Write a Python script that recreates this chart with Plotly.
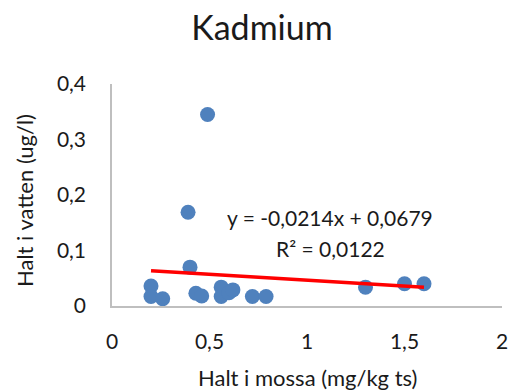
import plotly.graph_objects as go

# Data
moss = [0.20, 0.20, 0.26, 0.39, 0.40, 0.43, 0.46, 0.49, 0.56, 0.56, 0.60, 0.62, 0.72, 0.79, 1.30, 1.50, 1.60]
water = [0.036, 0.017, 0.013, 0.169, 0.070, 0.023, 0.018, 0.345, 0.034, 0.017, 0.024, 0.029, 0.017, 0.017, 0.034, 0.040, 0.040]

slope = -0.0214
intercept = 0.0679
r2 = 0.0122
trend_x = [min(moss), max(moss)]
trend_y = [slope * v + intercept for v in trend_x]

x_ticks = [0, 0.5, 1, 1.5, 2]
y_ticks = [0, 0.1, 0.2, 0.3, 0.4]

FONT = "Lato"
TXT = "#1a1a1a"

fig = go.Figure()
fig.add_trace(go.Scatter(x=moss, y=water, mode="markers",
                         marker=dict(color="#4f81bd", size=15, line=dict(width=0)),
                         showlegend=False, hoverinfo="x+y"))
fig.add_trace(go.Scatter(x=trend_x, y=trend_y, mode="lines",
                         line=dict(color="#ff0000", width=3.5),
                         showlegend=False, hoverinfo="skip"))

fig.update_layout(
    width=509, height=392,
    margin=dict(l=112, r=7, t=84, b=86),
    paper_bgcolor="white", plot_bgcolor="white",
    separators=", ",
    font=dict(family=FONT, color=TXT, size=21),
    title=dict(text="Kadmium", x=262/509, xanchor="center", xref="container",
               y=1 - 28/392, yanchor="middle", yref="container",
               font=dict(family=FONT, size=34, color=TXT)),
    xaxis=dict(range=[0, 2], tickvals=x_ticks, showgrid=False, zeroline=False,
               showline=True, linecolor="#bfbfbf", linewidth=1.5, automargin=False,
               ticks="", ticklabelstandoff=16, tickfont=dict(size=21, color=TXT)),
    yaxis=dict(range=[0, 0.4], tickvals=y_ticks, showgrid=False, zeroline=False,
               showline=True, linecolor="#bfbfbf", linewidth=1.5, automargin=False,
               ticks="", ticklabelstandoff=20, tickfont=dict(size=21, color=TXT)),
    annotations=[
        dict(text="Halt i mossa (mg/kg ts)", xref="paper", yref="paper",
             x=0.5, y=-(377-306)/222, xanchor="center", yanchor="middle",
             showarrow=False, font=dict(size=22, color=TXT)),
        dict(text="Halt i vatten (ug/l)", xref="paper", yref="paper",
             x=(24-112)/390, y=(306-201)/222, xanchor="center", yanchor="middle",
             textangle=-90, showarrow=False, font=dict(size=22, color=TXT)),
        dict(text="y = -0,0214x + 0,0679", xref="x", yref="y",
             x=1.118, y=0.1586, xanchor="center", yanchor="middle",
             showarrow=False, font=dict(size=21, color=TXT)),
        dict(text="R² = 0,0122", xref="x", yref="y",
             x=1.118, y=0.1045, xanchor="center", yanchor="middle",
             showarrow=False, font=dict(size=21, color=TXT)),
    ],
)

fig.write_html("out.html", config={"displayModeBar": False},
               post_script="document.body.style.margin='0';document.body.style.padding='0';")
